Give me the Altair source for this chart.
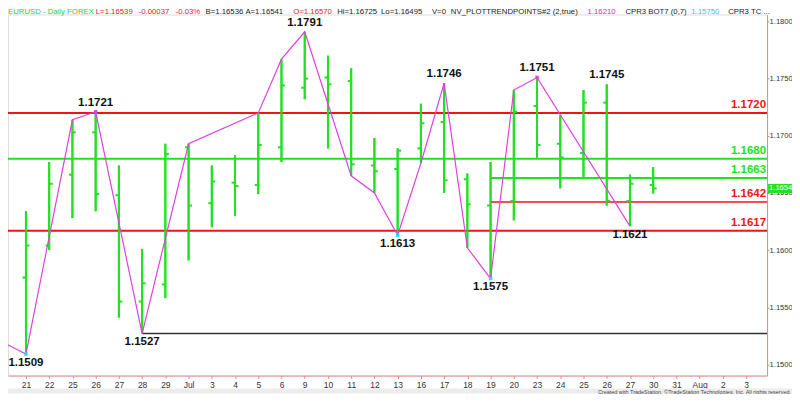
import altair as alt
import pandas as pd

# ---------------- data ----------------
day_labels = ['21', '22', '25', '26', '27', '28', '29', 'Jul', '3', '4', '5', '6', '9', '10', '11',
              '12', '13', '16', '17', '18', '19', '20', '23', '24', '25', '26', '27', '30', '31',
              'Aug', '2', '3']

opens = [1.1576, 1.1604, 1.1666, 1.1703, 1.1648, 1.1555, 1.1570, 1.1690, 1.1641, 1.1659,
         1.1657, 1.1690, 1.1742, 1.1751, 1.1748, 1.1674, 1.1671, 1.1689, 1.1712, 1.1662,
         1.1639, 1.1643, 1.1726, 1.1693, 1.1685, 1.1729, 1.1643, 1.16570]
highs = [1.1634, 1.1677, 1.1714, 1.1721, 1.1674, 1.1601, 1.1693, 1.1693, 1.1674, 1.1683,
         1.1720, 1.1767, 1.1791, 1.1770, 1.1759, 1.1698, 1.1689, 1.1728, 1.1746, 1.1667,
         1.1677, 1.1740, 1.1751, 1.1718, 1.1740, 1.1745, 1.1666, 1.16725]
lows = [1.1509, 1.1600, 1.1628, 1.1634, 1.1541, 1.1527, 1.1558, 1.1591, 1.1620, 1.1630,
        1.1649, 1.1677, 1.1732, 1.1689, 1.1665, 1.1650, 1.1613, 1.1676, 1.1650, 1.1602,
        1.1575, 1.1626, 1.1680, 1.1654, 1.1664, 1.1639, 1.1621, 1.16495]
closes = [1.1604, 1.1658, 1.1703, 1.1649, 1.1555, 1.1571, 1.1684, 1.1639, 1.1660, 1.1656,
          1.1692, 1.1744, 1.1750, 1.1745, 1.1675, 1.1669, 1.1687, 1.1711, 1.1661, 1.1640,
          1.1663, 1.1721, 1.1692, 1.1681, 1.1729, 1.1643, 1.1658, 1.16539]

trend_idx = [-2, 0, 2, 3, 5, 7, 10, 11, 12, 14, 15, 16, 17, 18, 19, 20, 21, 22, 26]
trend_val = [1.1530, 1.1509, 1.1714, 1.1721, 1.1527, 1.1693, 1.1720, 1.1767, 1.1791, 1.1665,
             1.1650, 1.1613, 1.1676, 1.1746, 1.1602, 1.1575, 1.1740, 1.1751, 1.1621]

peak_idx = [3, 12, 18, 22, 25]
peak_val = [1.1721, 1.1791, 1.1746, 1.1751, 1.1745]
trough_idx = [0, 5, 16, 20, 26]
trough_val = [1.1509, 1.1527, 1.1613, 1.1575, 1.1621]

magenta_dot_idx = [3, 22]
magenta_dot_val = [1.1721, 1.1751]
cyan_dot_idx = [0, 16, 20]
cyan_dot_val = [1.1509, 1.1613, 1.1575]

level_vals = [1.1720, 1.1680, 1.1663, 1.1642, 1.1617, 1.1527]
level_start = [None, None, 20, 20, None, 5]
level_labeled = [True, True, True, True, True, False]

last_price = 1.16539

y_ticks = [1.15, 1.155, 1.16, 1.165, 1.17, 1.175, 1.18]

header_texts = ["EURUSD - Daily  FOREX", "L=1.16539", "-0.00037", "-0.03%", "B=1.16536",
                "A=1.16541", "O=1.16570", "Hi=1.16725", "Lo=1.16495", "V=0",
                "NV_PLOTTRENDPOINTS#2 (2,true)", "1.16210", "CPR3 BOT7 (0,7)", "1.15750",
                "CPR3 TC ..."]

# ---------------- styles / layout ----------------
GREEN = "#22e022"
RED = "#ee1515"
MAG = "#e040e0"
CYAN = "#20e0f0"
PINK = "#e08a8a"
FONT = "Liberation Sans"
W, H = 761, 362
RIGHT_PAD = 25

header_colors = ["#33cc33", "#dd2222", "#dd2222", "#dd2222", "#222", "#222", "#dd2222",
                 "#222", "#222", "#222", "#222", "#e020e0", "#222", "#30c8e0", "#222"]
header_x = [0, 88, 131, 168, 198, 238, 286, 330, 374, 425, 444, 581, 619, 685, 722]

level_colors = [RED, GREEN, GREEN, RED, RED, "#333333"]
level_widths = [2, 2, 2, 1.6, 2, 1.5]

xs = alt.Scale(domain=[-0.7729, 31.902], nice=False, zero=False)
ys = alt.Scale(domain=[1.149023, 1.180611], nice=False, zero=False)

label_expr = "[" + ",".join("'%s'" % d for d in day_labels) + "][datum.value]"

x_axis = alt.Axis(values=list(range(len(day_labels))), labelExpr=label_expr, title=None,
                  grid=False, domainColor=PINK, tickColor=PINK, tickSize=3,
                  labelFontSize=8.5, labelColor="#333", labelFont=FONT, labelPadding=2,
                  labelFlush=False, labelOverlap=False)
y_axis = alt.Axis(orient="right", values=y_ticks, format=".4f", title=None, grid=False,
                  domainColor=PINK, tickColor="#999", tickSize=2, labelFontSize=7.6,
                  labelColor="#333", labelFont=FONT, labelPadding=0, labelFlush=False,
                  labelOverlap=False)


def X(field):
    return alt.X(field, type="quantitative", scale=xs, axis=x_axis)


def Y(field):
    return alt.Y(field, type="quantitative", scale=ys, axis=y_axis)


bars = pd.DataFrame({"i": list(range(len(opens))), "o": opens, "h": highs,
                     "l": lows, "c": closes})

layers = []

# OHLC bars (first, carries the axes)
layers.append(alt.Chart(bars).mark_rule(color=GREEN, strokeWidth=2).encode(
    x=X("i"), y=Y("l"), y2="h:Q"))

# bottom scroll band
one = pd.DataFrame({"k": [0]})
layers.append(alt.Chart(one).mark_rect(color="#ececec").encode(
    x=alt.value(0), x2=alt.value(W + RIGHT_PAD), y=alt.value(375), y2=alt.value(380)))

# level lines
for v, s, col, sw in zip(level_vals, level_start, level_colors, level_widths):
    if s is None:
        d = pd.DataFrame({"v": [v]})
        layers.append(alt.Chart(d).mark_rule(color=col, strokeWidth=sw).encode(y=Y("v")))
    else:
        d = pd.DataFrame({"v": [v], "s": [s]})
        layers.append(alt.Chart(d).mark_rule(color=col, strokeWidth=sw).encode(
            x=X("s"), x2=alt.value(W), y=Y("v")))

# open / close ticks
layers.append(alt.Chart(bars).transform_calculate(xo="datum.i - 0.15").mark_rule(
    color=GREEN, strokeWidth=2).encode(x=X("xo"), x2="i:Q", y=Y("o")))
layers.append(alt.Chart(bars).transform_calculate(xc="datum.i + 0.15").mark_rule(
    color=GREEN, strokeWidth=2).encode(x=X("i"), x2="xc:Q", y=Y("c")))
# redraw vertical bars over the level lines
layers.append(alt.Chart(bars).mark_rule(color=GREEN, strokeWidth=2).encode(
    x=X("i"), y=Y("l"), y2="h:Q"))

# trend zigzag
trend = pd.DataFrame({"i": trend_idx, "v": trend_val})
layers.append(alt.Chart(trend).mark_line(color=MAG, strokeWidth=1.2, clip=True).encode(
    x=X("i"), y=Y("v"), order="i:Q"))

# swing dots
md = pd.DataFrame({"i": magenta_dot_idx, "v": magenta_dot_val})
cd = pd.DataFrame({"i": cyan_dot_idx, "v": cyan_dot_val})
layers.append(alt.Chart(md).mark_square(size=12, color=MAG, opacity=1).encode(
    x=X("i"), y=Y("v")))
layers.append(alt.Chart(cd).mark_square(size=12, color=CYAN, opacity=1).encode(
    x=X("i"), y=Y("v")))

# swing labels
pk = pd.DataFrame({"i": peak_idx, "v": peak_val})
tr = pd.DataFrame({"i": trough_idx, "v": trough_val})
for d, dy in ((pk, -9), (tr, 8.5)):
    layers.append(alt.Chart(d).transform_calculate(t="format(datum.v, '.4f')").mark_text(
        font=FONT, fontWeight="bold", fontSize=11.5, color="#111", baseline="middle",
        dy=dy).encode(x=X("i"), y=Y("v"), text="t:N"))

# level labels
for v, col, lab in zip(level_vals, level_colors, level_labeled):
    if not lab:
        continue
    d = pd.DataFrame({"v": [v]})
    layers.append(alt.Chart(d).transform_calculate(t="format(datum.v, '.4f')").mark_text(
        font=FONT, fontWeight="bold", fontSize=11.5, color=col, align="right",
        baseline="middle", dy=-8).encode(x=alt.value(760), y=Y("v"), text="t:N"))

# last price box
lp = pd.DataFrame({"p": [last_price]})
layers.append(alt.Chart(lp).transform_calculate(
    top="datum.p + 0.0004", bot="datum.p - 0.0004").mark_rect(color=GREEN).encode(
    x=alt.value(W + 1), x2=alt.value(W + RIGHT_PAD), y=Y("top"), y2="bot:Q"))
layers.append(alt.Chart(lp).transform_calculate(t="format(datum.p, '.4f')").mark_text(
    font=FONT, fontSize=7.6, color="white", align="left", baseline="middle").encode(
    x=alt.value(W + 2), y=Y("p"), text="t:N"))

# header line
for t, col, px in zip(header_texts, header_colors, header_x):
    d = pd.DataFrame({"t": [t]})
    layers.append(alt.Chart(d).mark_text(font=FONT, fontSize=7.8, color=col, align="left",
                                         baseline="middle").encode(
        x=alt.value(px), y=alt.value(-2), text="t:N"))

# credit
cr = pd.DataFrame({"t": ["Created with TradeStation. \u00a9TradeStation Technologies, Inc. All rights reserved."]})
layers.append(alt.Chart(cr).mark_text(font=FONT, fontSize=5.5, color="#444", align="right",
                                      baseline="middle").encode(
    x=alt.value(W + RIGHT_PAD - 1), y=alt.value(378), text="t:N"))

chart = alt.layer(*layers).properties(
    width=W, height=H,
    padding={"left": 0, "top": 6, "right": RIGHT_PAD, "bottom": 18},
    autosize=alt.AutoSizeParams(type="none"),
    background="white",
).configure_view(strokeWidth=0).configure(font=FONT)

chart.save("out.html", embed_options={"renderer": "svg", "actions": False})
